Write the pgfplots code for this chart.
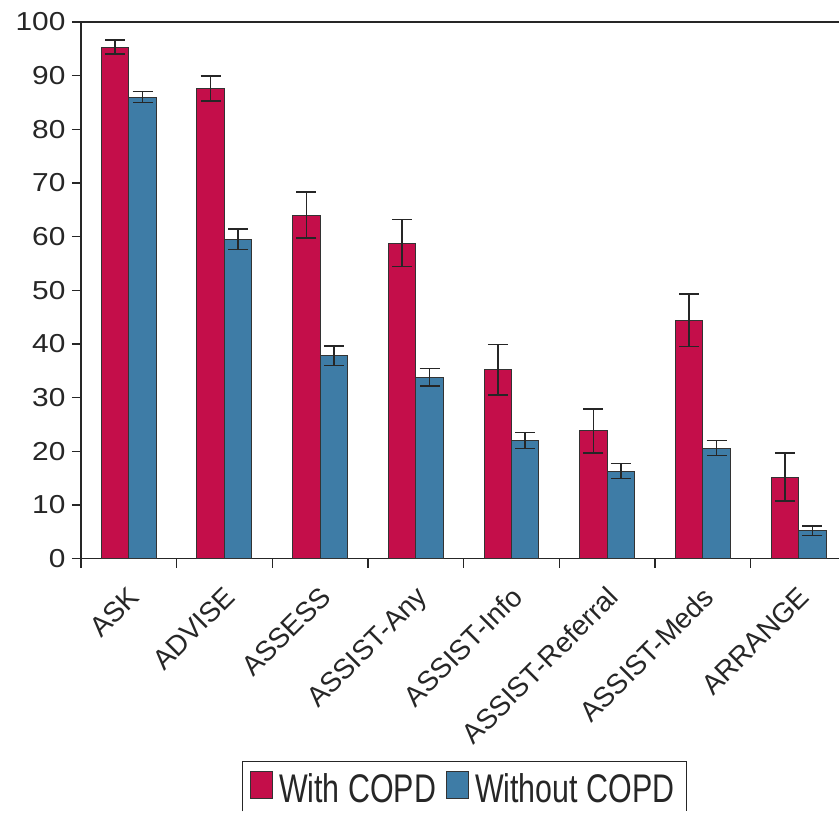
\documentclass[border=0pt]{standalone}
\usepackage{fontspec}
\setmainfont{Liberation Sans}
\usepackage{graphicx}
\usepackage{pgfplots}
\usepackage{pgfplotstable}
\pgfplotsset{compat=1.18}

\definecolor{copd}{RGB}{196,14,74}
\definecolor{nocopd}{RGB}{62,124,166}

% category, with COPD (+/-), without COPD (+/-)
\pgfplotstableread{
x with ewith without ewithout
0 95.3 1.3 86.0 1.0
1 87.6 2.3 59.5 1.9
2 64.0 4.3 37.8 1.8
3 58.8 4.4 33.8 1.6
4 35.2 4.7 22.0 1.5
5 23.8 4.1 16.3 1.4
6 44.4 4.9 20.6 1.4
7 15.2 4.5 5.2 0.9
}\datatable

\begin{document}
\begin{tikzpicture}
\begin{axis}[
    scale only axis, width=759pt, height=537pt,
    ybar=0pt, bar width=27.5pt,
    xmin=-0.5, xmax=7.427, ymin=0, ymax=100,
    axis x line*=box, axis y line*=left,
    xtick={0,...,7},
    xticklabels={ASK,ADVISE,ASSESS,ASSIST-Any,ASSIST-Info,ASSIST-Referral,ASSIST-Meds,ARRANGE},
    ytick={0,10,...,100},
    minor xtick={-0.5,0.5,...,6.5},
    minor ytick={0,10,...,100},
    xtick pos=left, ytick pos=left,
    tick align=outside, major tick length=0pt, minor tick length=9pt,
    tick style={line width=1.2pt, black!85},
    axis line style={line width=1.2pt, black!85},
    xticklabel shift=20pt, yticklabel shift=12pt,
    xticklabel style={rotate=45, anchor=north east, xshift=-2pt, font=\fontsize{28}{32}\selectfont, text=black!85},
    yticklabel style={font=\fontsize{26}{30}\selectfont, text=black!85},
    yticklabel={\scalebox{1.15}[1]{\pgfmathprintnumber{\tick}}},
    /pgf/number format/assume math mode=true,
    legend style={at={(0.504,-0.4618)}, anchor=south, legend columns=-1,
        draw=none, fill=none, inner sep=0pt,
        nodes={inner sep=2pt},
        font=\fontsize{40}{44}\selectfont, text=black!85,
        /tikz/every even column/.append style={column sep=8pt},
        /tikz/every odd column/.append style={column sep=4pt}},
    legend image code/.code={\draw[#1, draw=black!80, line width=1pt] (0pt,-10pt) rectangle (22pt,17pt);},
    error bars/error bar style={line width=1.5pt, black!85},
    error bars/error mark options={rotate=90, mark size=10pt, line width=1.5pt, black!85},
]
\addplot[fill=copd, draw=black!80, line width=1pt,
    error bars/.cd, y dir=both, y explicit]
    table[x=x, y=with, y error=ewith] {\datatable};
\addlegendentry{\scalebox{0.76}[1]{With COPD}}
\addplot[fill=nocopd, draw=black!80, line width=1pt,
    error bars/.cd, y dir=both, y explicit]
    table[x=x, y=without, y error=ewithout] {\datatable};
\addlegendentry{\scalebox{0.76}[1]{Without COPD}}
\end{axis}
% legend frame, open at the bottom where the figure is cut
\draw[line width=1.2pt, black!85]
    ([xshift=162pt,yshift=-253pt]current axis.south west) -- ++(0,50pt)
    -- ++(444pt,0) -- ++(0,-50pt);
% page margins as in the reference
\path ([xshift=-81pt,yshift=22pt]current axis.north west);
\path ([yshift=-253pt]current axis.south west);
\end{tikzpicture}
\end{document}
